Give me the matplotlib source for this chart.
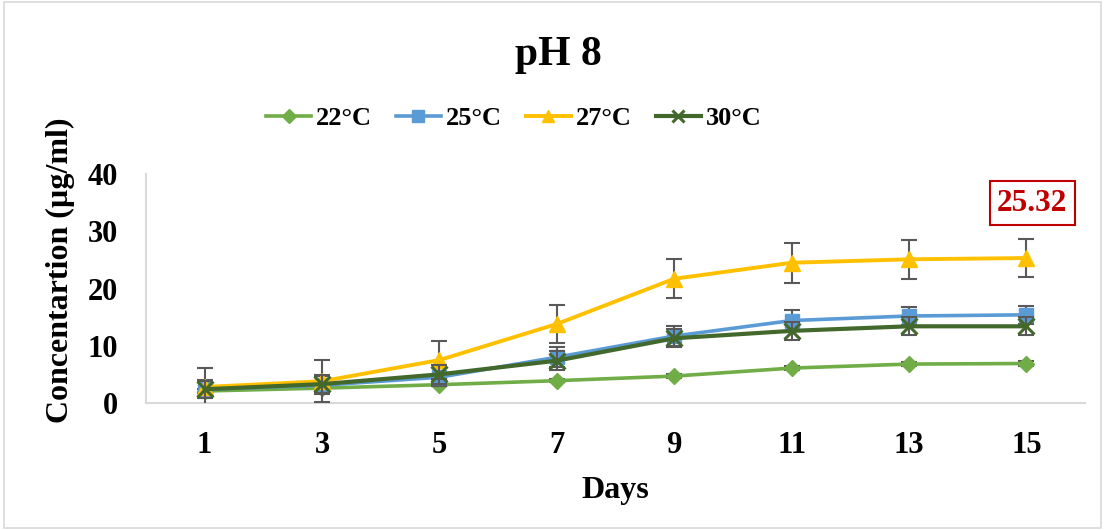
import numpy as np
import matplotlib
matplotlib.use("Agg")
from matplotlib import pyplot as plt
from matplotlib.patches import Rectangle

plt.rcParams['font.family'] = ['Liberation Serif', 'DejaVu Serif']
plt.rcParams['font.weight'] = 'bold'

days = ['1', '3', '5', '7', '9', '11', '13', '15']
labels = ['22°C', '25°C', '27°C', '30°C']

conc_22 = [2.1, 2.6, 3.2, 3.9, 4.7, 6.1, 6.8, 6.9]
conc_25 = [2.4, 3.1, 4.5, 8.0, 11.7, 14.4, 15.2, 15.4]
conc_27 = [2.8, 3.8, 7.5, 13.8, 21.7, 24.5, 25.1, 25.32]
conc_30 = [2.4, 3.3, 5.0, 7.4, 11.3, 12.6, 13.4, 13.4]

err_22 = [0.3, 0.3, 0.3, 0.3, 0.4, 0.4, 0.4, 0.4]
err_25 = [1.6, 1.6, 1.6, 1.7, 1.7, 1.8, 1.6, 1.6]
err_27 = [3.4, 3.7, 3.3, 3.3, 3.4, 3.5, 3.4, 3.3]
err_30 = [1.5, 1.6, 1.6, 1.6, 1.6, 1.6, 1.6, 1.6]

colors = ['#70AD47', '#5B9BD5', '#FFC000', '#43682B']
markers = ['D', 's', '^', 'x']
msizes = [8, 10, 11, 11]
lwidths = [2.6, 2.6, 2.8, 3.0]

fig = plt.figure(figsize=(11.05, 5.30), dpi=100)
ax = fig.add_axes([0.132, 0.2396, 0.85, 0.4321])

x = np.arange(len(days))
series = [conc_22, conc_25, conc_27, conc_30]
errs = [err_22, err_25, err_27, err_30]
handles = []
for i in range(4):
    ax.errorbar(x, series[i], yerr=errs[i], fmt='none', ecolor='#595959',
                elinewidth=1.5, capsize=6, capthick=1.5, zorder=2 + i)
    h, = ax.plot(x, series[i], color=colors[i], marker=markers[i], ms=msizes[i],
                 lw=lwidths[i], mew=2.2 if markers[i] == 'x' else 1,
                 mec=colors[i], label=labels[i], zorder=3 + i)
    handles.append(h)

ax.set_xlim(-0.5, 7.5)
ax.set_ylim(0, 40)
ax.set_yticks([0, 10, 20, 30, 40])
ax.set_xticks(x)
ax.set_xticklabels(days)
ax.tick_params(axis='both', length=0, labelsize=22)
ax.tick_params(axis='y', pad=20)
ax.tick_params(axis='x', pad=20)
for s in ['top', 'right']:
    ax.spines[s].set_visible(False)
for s in ['left', 'bottom']:
    ax.spines[s].set_color('#D9D9D9')
    ax.spines[s].set_linewidth(1.5)

ax.set_xlabel('Days', fontsize=23, fontweight='bold', labelpad=12)
ax.set_ylabel('Concentartion (µg/ml)', fontsize=23, fontweight='bold')
ax.yaxis.set_label_coords(-0.075, 0.58)

ax.annotate('25.32', xy=(7, 25.32), xytext=(7.05, 34.9), textcoords='data',
            ha='center', va='center', fontsize=22.5, fontweight='bold', color='#C00000',
            bbox=dict(boxstyle='square,pad=0.24', fc='white', ec='#C00000', lw=1.5))

fig.text(0.505, 0.896, 'pH 8', ha='center', va='center', fontsize=30, fontweight='bold')

fig.legend(handles=handles, loc='center', bbox_to_anchor=(0.465, 0.777), ncol=4,
           frameon=False, prop={'size': 19, 'weight': 'bold'}, handlelength=1.7,
           handletextpad=0.2, columnspacing=0.9, markerscale=0.85)

fig.patches.append(Rectangle((0.004, 0.004), 0.992, 0.992, transform=fig.transFigure,
                             fill=False, ec='#D9D9D9', lw=1.2))

fig.savefig('out.png', dpi=100)
